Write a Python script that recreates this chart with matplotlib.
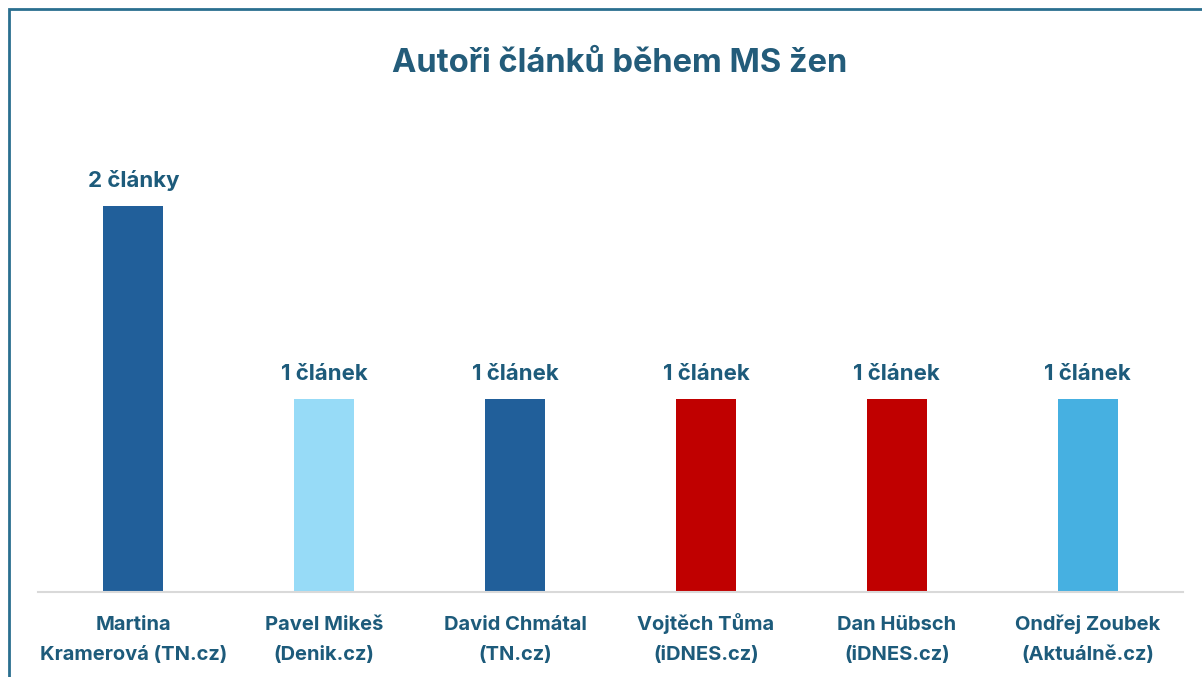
import matplotlib
matplotlib.use('Agg')
import matplotlib.pyplot as plt
from matplotlib.patches import Rectangle

# data
autori = ['Martina\nKramerová (TN.cz)', 'Pavel Mikeš\n(Denik.cz)', 'David Chmátal\n(TN.cz)',
          'Vojtěch Tůma\n(iDNES.cz)', 'Dan Hübsch\n(iDNES.cz)', 'Ondřej Zoubek\n(Aktuálně.cz)']
pocetClanku = [2, 1, 1, 1, 1, 1]
popisky = ['2 články', '1 článek', '1 článek', '1 článek', '1 článek', '1 článek']
barvy = ['#215f9a', '#97dbf7', '#215f9a', '#c00000', '#c00000', '#46b0e1']

textColor = '#1d5b7b'
plt.rcParams['font.family'] = ['Inter', 'DejaVu Sans']

fig = plt.figure(figsize=(12.02, 6.77), dpi=100)
ax = fig.add_axes([38 / 1202, 85 / 677, 1145 / 1202, 432 / 677])

x = list(range(len(autori)))
ax.bar(x, pocetClanku, width=0.314, color=barvy)

for xi, v, t in zip(x, pocetClanku, popisky):
    ax.text(xi, v + 0.075, t, ha='center', va='bottom', fontsize=16,
            fontweight='bold', color=textColor)

# popisky osy x - kazdy radek zvlast, at jsou zarovnane na uctari
for xi, jmeno in zip(x, autori):
    for i, radek in enumerate(jmeno.split('\n')):
        ax.annotate(radek, xy=(xi, 0), xycoords=('data', 'axes fraction'),
                    xytext=(0, -27.4 - i * 21.6), textcoords='offset points',
                    ha='center', va='baseline', fontsize=14.5, fontweight='bold',
                    color=textColor)

ax.set_xlim(-0.5, 5.5)
ax.set_ylim(0, 2.238)
ax.set_xticks([])
ax.set_yticks([])
for s in ['top', 'right', 'left']:
    ax.spines[s].set_visible(False)
ax.spines['bottom'].set_color('#d9d9d9')
ax.spines['bottom'].set_linewidth(1.5)

fig.text(620 / 1202, 1 - 63 / 677, 'Autoři článků během MS žen', ha='center', va='center',
         fontsize=23.5, fontweight='bold', color='#235c7a')

# ramecek kolem grafu
fig.patches.append(Rectangle((9 / 1202, -0.1), 1.2, 1 - 9 / 677 + 0.1,
                             transform=fig.transFigure, fill=False,
                             edgecolor='#2a6f8f', linewidth=2))

fig.savefig('out.png', dpi=100)
